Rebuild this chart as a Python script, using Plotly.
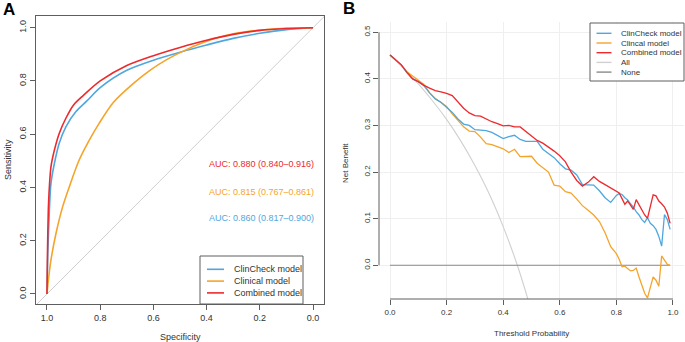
import plotly.graph_objects as go

# ---------------- data ----------------
# Panel A: ROC curves (specificity, sensitivity)
roc_combined_spec = [1.0, 0.998, 0.995, 0.991, 0.985, 0.972, 0.954, 0.929, 0.90, 0.864, 0.80, 0.70, 0.60, 0.50, 0.40, 0.30, 0.20, 0.10, 0.0]
roc_combined_sens = [0.0, 0.165, 0.315, 0.403, 0.478, 0.541, 0.603, 0.66, 0.71, 0.745, 0.80, 0.858, 0.895, 0.926, 0.953, 0.975, 0.99, 0.997, 1.0]

roc_clincheck_spec = [1.0, 0.997, 0.991, 0.985, 0.972, 0.954, 0.929, 0.891, 0.85, 0.80, 0.70, 0.60, 0.50, 0.40, 0.30, 0.20, 0.10, 0.0]
roc_clincheck_sens = [0.0, 0.15, 0.315, 0.416, 0.491, 0.566, 0.628, 0.685, 0.725, 0.775, 0.84, 0.878, 0.908, 0.935, 0.96, 0.979, 0.993, 1.0]

roc_clinical_spec = [1.0, 0.995, 0.985, 0.966, 0.941, 0.916, 0.879, 0.841, 0.804, 0.75, 0.676, 0.613, 0.55, 0.488, 0.425, 0.30, 0.175, 0.10, 0.0]
roc_clinical_sens = [0.0, 0.05, 0.128, 0.228, 0.328, 0.403, 0.503, 0.578, 0.641, 0.72, 0.79, 0.84, 0.88, 0.912, 0.94, 0.977, 0.993, 0.998, 1.0]

roc_names = ["ClinCheck model", "Clinical model", "Combined model"]
auc_labels = ["AUC: 0.880 (0.840\u20130.916)", "AUC: 0.815 (0.767\u20130.861)", "AUC: 0.860 (0.817\u20130.900)"]

# Panel B: decision curves
dca_threshold = [0.00, 0.02, 0.04, 0.06, 0.08, 0.10, 0.12, 0.14, 0.16, 0.18,
                 0.20, 0.22, 0.24, 0.26, 0.28, 0.30, 0.32, 0.34, 0.36, 0.38,
                 0.40, 0.42, 0.44, 0.46, 0.48, 0.50, 0.52, 0.54, 0.56, 0.58,
                 0.60, 0.62, 0.64, 0.66, 0.68, 0.70, 0.72, 0.74, 0.76, 0.78,
                 0.80, 0.81, 0.82, 0.83, 0.84, 0.85, 0.86, 0.87, 0.88, 0.89,
                 0.90, 0.91, 0.92, 0.93, 0.94, 0.95, 0.96, 0.97, 0.98, 0.99]
nb_combined = [0.451, 0.440, 0.430, 0.414, 0.400, 0.394, 0.386, 0.380, 0.375, 0.372,
               0.369, 0.364, 0.350, 0.337, 0.327, 0.321, 0.320, 0.314, 0.308, 0.304,
               0.299, 0.300, 0.297, 0.297, 0.287, 0.277, 0.268, 0.262, 0.254, 0.245,
               0.235, 0.222, 0.200, 0.182, 0.170, 0.178, 0.190, 0.180, 0.173, 0.166,
               0.160, 0.155, 0.143, 0.131, 0.138, 0.128, 0.120, 0.141, 0.130, 0.120,
               0.108, 0.101, 0.125, 0.151, 0.149, 0.138, 0.132, 0.125, 0.112, 0.090]
nb_clincheck = [0.451, 0.440, 0.430, 0.413, 0.400, 0.394, 0.385, 0.370, 0.357, 0.350,
                0.340, 0.328, 0.314, 0.303, 0.300, 0.291, 0.290, 0.289, 0.285, 0.279,
                0.272, 0.276, 0.279, 0.270, 0.266, 0.266, 0.266, 0.249, 0.240, 0.231,
                0.218, 0.207, 0.204, 0.194, 0.173, 0.172, 0.172, 0.160, 0.145, 0.135,
                0.150, 0.154, 0.152, 0.145, 0.140, 0.132, 0.125, 0.115, 0.108, 0.098,
                0.092, 0.102, 0.090, 0.085, 0.077, 0.062, 0.041, 0.109, 0.098, 0.077]
nb_clinical = [0.451, 0.440, 0.430, 0.415, 0.405, 0.397, 0.388, 0.370, 0.358, 0.350,
               0.341, 0.325, 0.311, 0.297, 0.288, 0.287, 0.275, 0.261, 0.259, 0.255,
               0.250, 0.242, 0.249, 0.233, 0.233, 0.234, 0.219, 0.210, 0.200, 0.172,
               0.170, 0.158, 0.155, 0.142, 0.128, 0.118, 0.108, 0.094, 0.070, 0.040,
               0.025, 0.013, -0.003, -0.002, -0.008, -0.012, -0.011, -0.006, -0.025, -0.045,
               -0.060, -0.070, -0.045, -0.025, -0.032, -0.045, 0.020, 0.012, 0.002, 0.000]
all_threshold = [0.0, 0.05, 0.10, 0.15, 0.20, 0.25, 0.30, 0.35, 0.40, 0.45, 0.49]
nb_all = [0.451, 0.421, 0.389, 0.353, 0.313, 0.267, 0.214, 0.154, 0.083, 0.0, -0.078]
none_threshold = [0.0, 0.99]
nb_none = [0.0, 0.0]
dca_names = ["ClinCheck model", "Clincal model", "Combined model", "All", "None"]

x_ticks_a = [1.0, 0.8, 0.6, 0.4, 0.2, 0.0]
y_ticks_a = [0.0, 0.2, 0.4, 0.6, 0.8, 1.0]
x_ticks_b = [0.0, 0.2, 0.4, 0.6, 0.8, 1.0]
y_ticks_b = [0.0, 0.1, 0.2, 0.3, 0.4, 0.5]

# ---------------- style ----------------
W, H = 685, 342
BLUE = "#4FA7DE"
ORANGE = "#F5A42A"
RED = "#EC2A2D"
LGRAY = "#D0D0D0"
DGRAY = "#8A8A8A"
AX = "#5E5E5E"
TXT = "#333333"
FONT = "Liberation Sans, Arial, sans-serif"


def px(x):
    return x / W


def py(y):
    return 1 - y / H


fig = go.Figure()

# diagonal reference in A
fig.add_trace(go.Scatter(x=[1.1, -0.1], y=[-0.1, 1.1], mode="lines",
                         line=dict(color="#CFCFCF", width=1), xaxis="x", yaxis="y",
                         showlegend=False, hoverinfo="skip"))
for spec, sens, col, name in [(roc_clincheck_spec, roc_clincheck_sens, BLUE, roc_names[0]),
                              (roc_clinical_spec, roc_clinical_sens, ORANGE, roc_names[1]),
                              (roc_combined_spec, roc_combined_sens, RED, roc_names[2])]:
    fig.add_trace(go.Scatter(x=spec, y=sens, mode="lines", name=name,
                             line=dict(color=col, width=1.6, shape="spline", smoothing=0.8),
                             xaxis="x", yaxis="y", showlegend=False))

# Panel B
fig.add_trace(go.Scatter(x=all_threshold, y=nb_all, mode="lines", name="All",
                         line=dict(color=LGRAY, width=1.1, shape="spline"),
                         xaxis="x2", yaxis="y2", showlegend=False))
fig.add_trace(go.Scatter(x=none_threshold, y=nb_none, mode="lines", name="None",
                         line=dict(color=DGRAY, width=1.1),
                         xaxis="x2", yaxis="y2", showlegend=False))
for yv, col, name in [(nb_clinical, ORANGE, dca_names[1]),
                      (nb_clincheck, BLUE, dca_names[0]),
                      (nb_combined, RED, dca_names[2])]:
    fig.add_trace(go.Scatter(x=dca_threshold, y=yv, mode="lines", name=name,
                             line=dict(color=col, width=1.3),
                             xaxis="x2", yaxis="y2", showlegend=False))

shapes = []
annotations = []

# B axis lines (R style, spanning the tick range)
shapes.append(dict(type="line", xref="x2", yref="y2 domain", x0=0, x1=1, y0=0, y1=0,
                   line=dict(color=AX, width=1)))
shapes.append(dict(type="line", xref="x2 domain", yref="y2", x0=0, x1=0, y0=0, y1=0.5,
                   line=dict(color=AX, width=1)))

# Legend A
shapes.append(dict(type="rect", xref="paper", yref="paper", x0=px(200), x1=px(303),
                   y0=py(304), y1=py(256), line=dict(color=AX, width=1), fillcolor="white"))
for i, (name, col) in enumerate(zip(roc_names, [BLUE, ORANGE, RED])):
    yy = 269.3 + i * 11.8
    shapes.append(dict(type="line", xref="paper", yref="paper", x0=px(207), x1=px(224),
                       y0=py(yy), y1=py(yy), line=dict(color=col, width=1.6)))
    annotations.append(dict(x=px(231.5), y=py(yy), xref="paper", yref="paper", text=name,
                            showarrow=False, xanchor="left", yanchor="middle",
                            font=dict(size=9, color=TXT, family=FONT)))

# Legend B
shapes.append(dict(type="rect", xref="paper", yref="paper", x0=px(590), x1=px(684),
                   y0=py(81), y1=py(23), line=dict(color=AX, width=1), fillcolor="white"))
for i, (name, col) in enumerate(zip(dca_names, [BLUE, ORANGE, RED, LGRAY, DGRAY])):
    yy = 33.3 + i * 9.7
    shapes.append(dict(type="line", xref="paper", yref="paper", x0=px(596.5), x1=px(611.5),
                       y0=py(yy), y1=py(yy), line=dict(color=col, width=1.4)))
    annotations.append(dict(x=px(619), y=py(yy), xref="paper", yref="paper", text=name,
                            showarrow=False, xanchor="left", yanchor="middle",
                            font=dict(size=8, color=TXT, family=FONT)))

# AUC labels
for txt, yy, col in zip(auc_labels, [164, 191.7, 217.7], [RED, ORANGE, BLUE]):
    annotations.append(dict(x=px(206.5), y=py(yy), xref="paper", yref="paper", text=txt,
                            showarrow=False, xanchor="left", yanchor="middle",
                            font=dict(size=9, color=col, family=FONT)))

# axis titles & panel labels
annotations += [
    dict(x=px(180), y=py(337), xref="paper", yref="paper", text="Specificity", showarrow=False,
         xanchor="center", yanchor="middle", font=dict(size=9, color=TXT, family=FONT)),
    dict(x=px(8), y=py(160), xref="paper", yref="paper", text="Sensitivity", showarrow=False,
         textangle=-90, xanchor="center", yanchor="middle", font=dict(size=9, color=TXT, family=FONT)),
    dict(x=px(531.5), y=py(333.5), xref="paper", yref="paper", text="Threshold Probability",
         showarrow=False, xanchor="center", yanchor="middle", font=dict(size=8, color=TXT, family=FONT)),
    dict(x=px(345), y=py(163), xref="paper", yref="paper", text="Net Benefit", showarrow=False,
         textangle=-90, xanchor="center", yanchor="middle", font=dict(size=8, color=TXT, family=FONT)),
    dict(x=px(9), y=py(10), xref="paper", yref="paper", text="<b>A</b>", showarrow=False,
         xanchor="center", yanchor="middle", font=dict(size=17, color="black", family=FONT)),
    dict(x=px(349), y=py(9), xref="paper", yref="paper", text="<b>B</b>", showarrow=False,
         xanchor="center", yanchor="middle", font=dict(size=17, color="black", family=FONT)),
]

fig.update_layout(
    width=W, height=H, margin=dict(l=0, r=0, t=0, b=0),
    paper_bgcolor="white", plot_bgcolor="white",
    font=dict(family=FONT, size=9, color=TXT),
    shapes=shapes, annotations=annotations,
    xaxis=dict(domain=[px(36), px(324)], range=[1.0413, -0.0413], anchor="y",
               tickvals=x_ticks_a, ticktext=[f"{v:.1f}" for v in x_ticks_a],
               showline=True, mirror=True, linecolor=AX, linewidth=1,
               ticks="outside", ticklen=5, tickcolor=AX, showgrid=False, zeroline=False,
               tickfont=dict(size=9, color=TXT)),
    yaxis=dict(domain=[py(304), py(16)], range=[-0.0376, 1.044], anchor="x",
               tickvals=y_ticks_a, ticktext=[f"{v:.1f}" for v in y_ticks_a], tickangle=-90,
               showline=True, mirror=True, linecolor=AX, linewidth=1,
               ticks="outside", ticklen=5, tickcolor=AX, showgrid=False, zeroline=False,
               tickfont=dict(size=9, color=TXT)),
    xaxis2=dict(domain=[px(379), px(684)], range=[-0.0389, 1.039], anchor="y2",
                tickvals=x_ticks_b, ticktext=[f"{v:.1f}" for v in x_ticks_b],
                showline=False, ticks="outside", ticklen=5, tickcolor=AX,
                showgrid=True, gridcolor="#EFEFEF", gridwidth=1, zeroline=False,
                tickfont=dict(size=8, color=TXT)),
    yaxis2=dict(domain=[py(299), py(22)], range=[-0.0723, 0.522], anchor="x2",
                tickvals=y_ticks_b, ticktext=[f"{v:.1f}" for v in y_ticks_b], tickangle=-90,
                showline=False, ticks="outside", ticklen=5, tickcolor=AX,
                showgrid=True, gridcolor="#EFEFEF", gridwidth=1, zeroline=False,
                tickfont=dict(size=8, color=TXT)),
)

fig.write_html("out.html",
               config={"displayModeBar": False},
               post_script="document.body.style.margin='0';document.body.style.padding='0';"
                           "document.body.style.overflow='hidden';")
